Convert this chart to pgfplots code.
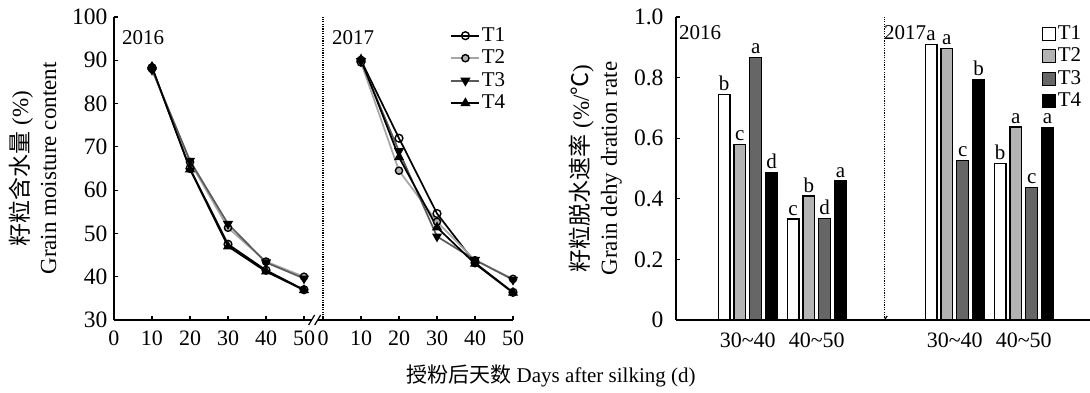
\documentclass[border=0pt]{standalone}
\usepackage{fontspec}
\setmainfont{Liberation Serif}
\newfontfamily\cjk{Noto Sans CJK SC}
\usepackage{pgfplots}
\pgfplotsset{compat=1.18}
\usetikzlibrary{calc}
\definecolor{lgray}{HTML}{B3B3B3}
\definecolor{dgray}{HTML}{666666}
\definecolor{lline}{HTML}{A6A6A6}
\definecolor{dline}{HTML}{5A5A5A}
\pgfplotsset{
  every axis/.append style={font=\fontsize{21}{27}\selectfont},
  /pgf/number format/assume math mode=true,
}
\begin{document}
\begin{tikzpicture}[font=\fontsize{21}{27}\selectfont]
\useasboundingbox (0pt,0pt) rectangle (1090pt,392pt);
% ---------------- left: moisture content ----------------
\begin{axis}[
  at={(114pt,72pt)}, anchor=south west,
  width=399pt, height=303pt, scale only axis,
  xmin=0, xmax=105, ymin=30, ymax=100,
  axis x line*=bottom, axis y line*=left,
  axis line style={line width=1.6pt, black},
  xtick={0,10,20,30,40,50,55,65,75,85,95,105},
  xticklabels={0,10,20,30,40,50,0,10,20,30,40,50},
  ytick={30,40,50,60,70,80,90,100},
  tick align=inside, major tick length=4pt,
  tick style={black, line width=1.2pt},
  tick label style={font=\fontsize{22}{26}\selectfont},
  yticklabel style={font=\fontsize{23.5}{26}\selectfont, xshift=-3pt},
  xticklabel style={yshift=-7pt},
  every axis y label/.style={at={(axis description cs:-0.204,0.5)}, rotate=90, anchor=center, align=center,
     font=\fontsize{23}{28}\selectfont},
  ylabel={{\cjk 籽粒含水量} (\%)\\Grain moisture content},
  clip=false,
  legend style={draw=none, fill=none, at={(0.843,0.972)}, anchor=north west,
    inner sep=0pt, row sep=2.5pt, nodes={inner sep=1.5pt, text height=14pt, text depth=3pt}},
  legend cell align=left,
  legend image code/.code={\draw[mark repeat=2,mark phase=2,#1] plot coordinates {(0pt,0pt)(14pt,0pt)(28pt,0pt)};},
]
\addplot[black, line width=1.7pt, mark=o, mark size=3.9pt, mark options={fill=white, line width=1.4pt}]
  coordinates {(10,88.3)(20,65.0)(30,47.5)(40,41.5)(50,37.0)};
\addlegendentry{T1}
\addplot[lline, line width=1.7pt, mark=*, mark size=3.6pt, mark options={fill=lgray, draw=black, line width=1.4pt}]
  coordinates {(10,88.0)(20,66.5)(30,51.3)(40,43.5)(50,40.0)};
\addlegendentry{T2}
\addplot[dline, line width=1.7pt, mark=triangle*, mark size=4.2pt, mark options={fill=black, draw=black, rotate=180}]
  coordinates {(10,87.8)(20,66.8)(30,52.2)(40,43.3)(50,39.6)};
\addlegendentry{T3}
\addplot[black, line width=1.7pt, mark=triangle*, mark size=4.2pt, mark options={fill=black, draw=black}]
  coordinates {(10,88.5)(20,64.8)(30,47.0)(40,41.2)(50,36.9)};
\addlegendentry{T4}
% 2017
\addplot[forget plot, black, line width=1.7pt, mark=o, mark size=3.9pt, mark options={fill=white, line width=1.4pt}]
  coordinates {(65,90.0)(75,72.0)(85,54.6)(95,43.2)(105,36.4)};
\addplot[forget plot, lline, line width=1.7pt, mark=*, mark size=3.6pt, mark options={fill=lgray, draw=black, line width=1.4pt}]
  coordinates {(65,89.5)(75,64.5)(85,52.7)(95,43.8)(105,39.5)};
\addplot[forget plot, dline, line width=1.7pt, mark=triangle*, mark size=4.2pt, mark options={fill=black, draw=black, rotate=180}]
  coordinates {(65,89.8)(75,69.0)(85,49.3)(95,43.9)(105,39.3)};
\addplot[forget plot, black, line width=1.7pt, mark=triangle*, mark size=4.2pt, mark options={fill=black, draw=black}]
  coordinates {(65,90.2)(75,67.6)(85,51.4)(95,43.0)(105,36.3)};
% separators, axis break, year labels
\draw[black, line width=1.2pt, dash pattern=on 1.2pt off 1.2pt] (axis cs:55,30) -- (axis cs:55,100);
\draw[white, line width=4pt] (axis cs:52.0,30) -- (axis cs:53.6,30);
\draw[black, line width=1.2pt] ($(axis cs:52.0,30)+(-3pt,-5pt)$) -- ++(6pt,10pt);
\draw[black, line width=1.2pt] ($(axis cs:53.6,30)+(-3pt,-5pt)$) -- ++(6pt,10pt);
\node[anchor=west, inner sep=0pt] at (rel axis cs:0.02,0.931) {2016};
\node[anchor=west, inner sep=0pt] at (rel axis cs:0.546,0.931) {2017};
\end{axis}
% ---------------- right: dehydration rate ----------------
\begin{axis}[
  at={(676pt,72pt)}, anchor=south west,
  width=414pt, height=303pt, scale only axis,
  xmin=-0.04, xmax=5.96, ymin=0, ymax=1.0,
  axis x line*=bottom, axis y line*=left,
  axis line style={line width=1.6pt, black},
  xtick={1,2,4,5},
  xticklabels={30\textasciitilde40,40\textasciitilde50,30\textasciitilde40,40\textasciitilde50},
  xtick style={draw=none},
  ytick={0,0.2,0.4,0.6,0.8,1.0},
  yticklabels={0,0.2,0.4,0.6,0.8,1.0},
  tick align=inside, major tick length=4pt,
  tick style={black, line width=1.2pt},
  tick label style={font=\fontsize{22}{26}\selectfont},
  yticklabel style={font=\fontsize{23.5}{26}\selectfont, xshift=-9pt},
  xticklabel style={yshift=-9pt},
  every axis y label/.style={at={(axis description cs:-0.194,0.5)}, rotate=90, anchor=center, align=center,
     font=\fontsize{23}{28}\selectfont},
  ylabel={{\cjk 籽粒脱水速率} (\%/{\cjk ℃})\\Grain dehy dration rate},
  clip=false,
  legend style={draw=none, fill=none, at={(0.884,0.978)}, anchor=north west,
    inner sep=0pt, row sep=2.5pt, nodes={inner sep=1.5pt, text height=14pt, text depth=3pt}},
  legend cell align=left,
  nodes near coords style={font=\fontsize{21}{24}\selectfont, anchor=south, yshift=1pt, inner sep=2pt},
]
\addlegendimage{legend image code/.code={\draw[fill=white,draw=black,line width=1.2pt] (0pt,-6.5pt) rectangle (13pt,6.5pt);}}
\addlegendentry{T1}
\addlegendimage{legend image code/.code={\draw[fill=lgray,draw=black,line width=1.2pt] (0pt,-6.5pt) rectangle (13pt,6.5pt);}}
\addlegendentry{T2}
\addlegendimage{legend image code/.code={\draw[fill=dgray,draw=black,line width=1.2pt] (0pt,-6.5pt) rectangle (13pt,6.5pt);}}
\addlegendentry{T3}
\addlegendimage{legend image code/.code={\draw[fill=black,draw=black,line width=1.2pt] (0pt,-6.5pt) rectangle (13pt,6.5pt);}}
\addlegendentry{T4}
\addplot[forget plot, ybar, bar width=0.17, bar shift=0pt, fill=white, draw=black, line width=1.3pt,
  nodes near coords, point meta=explicit symbolic]
  table[meta=l] {
x y l
0.656 0.744 b
1.656 0.333 c
3.656 0.910 a
4.656 0.516 b
};
\addplot[forget plot, ybar, bar width=0.17, bar shift=0pt, fill=lgray, draw=black, line width=1.3pt,
  nodes near coords, point meta=explicit symbolic]
  table[meta=l] {
x y l
0.885 0.580 c
1.885 0.409 b
3.885 0.895 a
4.885 0.637 a
};
\addplot[forget plot, ybar, bar width=0.17, bar shift=0pt, fill=dgray, draw=black, line width=1.3pt,
  nodes near coords, point meta=explicit symbolic]
  table[meta=l] {
x y l
1.115 0.866 a
2.115 0.334 d
4.115 0.527 c
5.115 0.437 c
};
\addplot[forget plot, ybar, bar width=0.17, bar shift=0pt, fill=black, draw=black, line width=1.3pt,
  nodes near coords, point meta=explicit symbolic]
  table[meta=l] {
x y l
1.344 0.487 d
2.344 0.459 a
4.344 0.794 b
5.344 0.635 a
};
\draw[black, line width=1.2pt, dash pattern=on 1.2pt off 1.2pt] (axis cs:2.98,0) -- (axis cs:2.98,1);
\draw[black, line width=1.2pt] (axis cs:2.98,0) -- ++(0,4pt);
\node[anchor=west, inner sep=0pt] at (rel axis cs:0.007,0.947) {2016};
\node[anchor=west, inner sep=0pt] at (rel axis cs:0.502,0.947) {2017};
\end{axis}
\node at (551pt,16pt) {{\cjk 授粉后天数} Days after silking (d)};
\end{tikzpicture}
\end{document}
